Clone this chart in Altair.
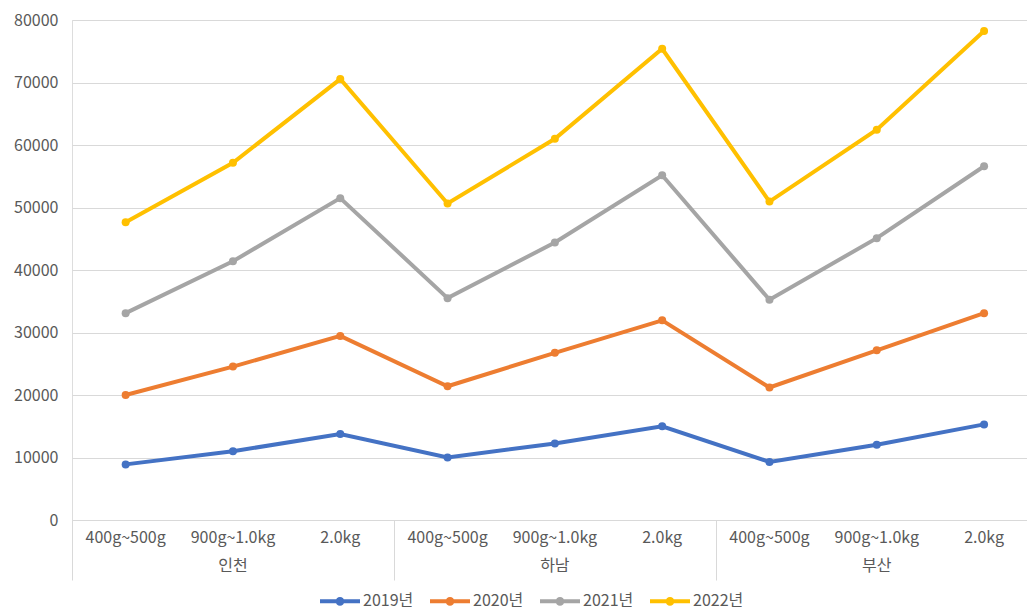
import altair as alt
import pandas as pd

sizes = ["400g~500g", "900g~1.0kg", "2.0kg"] * 3
regions = ["인천", "하남", "부산"]
years = ["2019년", "2020년", "2021년", "2022년"]
v2019 = [8900, 11000, 13750, 10000, 12250, 15000, 9300, 12050, 15300]
v2020 = [20000, 24550, 29450, 21400, 26750, 31950, 21200, 27150, 33100]
v2021 = [33100, 41400, 51500, 35500, 44400, 55150, 35250, 45100, 56600]
v2022 = [47650, 57150, 70550, 50650, 61000, 75400, 50950, 62450, 78250]
colors = ["#4472C4", "#ED7D31", "#A5A5A5", "#FFC000"]
y_ticks = [0, 10000, 20000, 30000, 40000, 50000, 60000, 70000, 80000]

rows = []
for y, vals in zip(years, [v2019, v2020, v2021, v2022]):
    for i, v in enumerate(vals):
        rows.append({"year": y, "pos": i + 0.5, "size": sizes[i], "value": v})
df = pd.DataFrame(rows)

size_df = pd.DataFrame({"pos": [i + 0.5 for i in range(9)], "label": sizes})
region_df = pd.DataFrame({"pos": [1.5, 4.5, 7.5], "label": regions})

FONT = "Noto Sans CJK KR"
TXT = "#595959"
FS = 16
W, H = 955, 500

xscale = alt.Scale(domain=[0, 8.9], nice=False, zero=False)
yscale = alt.Scale(domain=[0, 80000], nice=False)

legend_path = "M-1,0H1M0.12,0A0.12,0.12,0,1,1,-0.12,0A0.12,0.12,0,1,1,0.12,0"

color = alt.Color(
    "year:N",
    scale=alt.Scale(domain=years, range=colors),
    legend=alt.Legend(
        title=None,
        orient="none",
        direction="horizontal",
        legendX=246,
        legendY=559,
        symbolType=legend_path,
        symbolSize=1600,
        symbolStrokeWidth=4,
        labelFont=FONT,
        labelFontSize=FS,
        labelColor=TXT,
        labelOffset=1,
        columnPadding=8,
    ),
)

x_enc = alt.X(
    "pos:Q",
    scale=xscale,
    axis=alt.Axis(
        values=[0, 3, 6, 9],
        tickSize=60,
        tickColor="#d9d9d9",
        domainColor="#d9d9d9",
        labels=False,
        grid=False,
        title=None,
    ),
)
y_enc = alt.Y(
    "value:Q",
    scale=yscale,
    axis=alt.Axis(
        values=y_ticks,
        format="d",
        title=None,
        ticks=False,
        domain=False,
        gridColor="#d9d9d9",
        labelFont=FONT,
        labelFontSize=FS,
        labelColor=TXT,
        labelPadding=14,
    ),
)

lines = alt.Chart(df).mark_line(strokeWidth=4).encode(
    x=x_enc, y=y_enc, color=color, detail="year:N"
)
points = alt.Chart(df).mark_point(filled=True, size=64, opacity=1).encode(
    x="pos:Q", y="value:Q", color=alt.Color("year:N", legend=None)
)

size_text = alt.Chart(size_df).mark_text(
    font=FONT, fontSize=FS, color=TXT, baseline="middle"
).encode(x="pos:Q", y=alt.value(H + 18), text="label:N")
region_text = alt.Chart(region_df).mark_text(
    font=FONT, fontSize=FS, color=TXT, baseline="middle"
).encode(x="pos:Q", y=alt.value(H + 46), text="label:N")

chart = (
    alt.layer(lines, points, size_text, region_text)
    .properties(
        width=W,
        height=H,
        autosize=alt.AutoSizeParams(type="none"),
        padding={"left": 64, "top": 12, "right": 0, "bottom": 96},
    )
    .configure_view(stroke=None)
    .configure(background="white")
)

chart.save("out.html", embed_options={"renderer": "svg", "actions": False})
